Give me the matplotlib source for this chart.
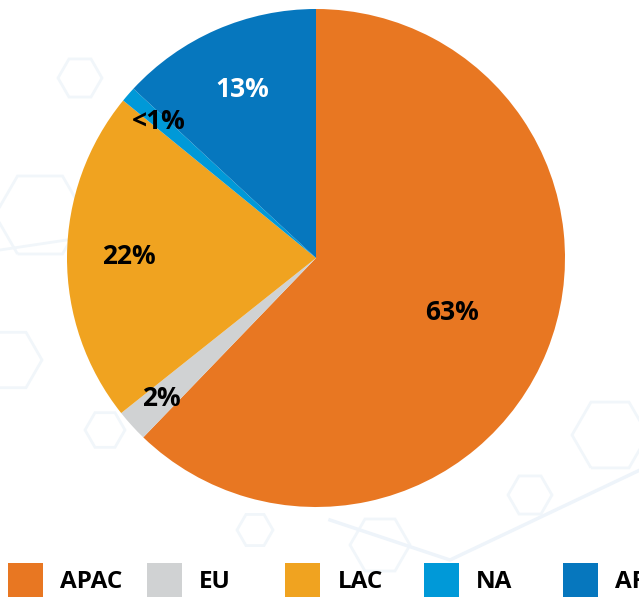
import numpy as np
import matplotlib.pyplot as plt
from matplotlib.patches import Rectangle, RegularPolygon

regions = ["APAC", "EU", "LAC", "NA", "AF"]
shares = [62.2, 2.1, 21.6, 1.0, 13.1]
pct_labels = ["63%", "2%", "22%", "<1%", "13%"]
colors = ["#E87722", "#D0D2D3", "#F0A320", "#0099D8", "#0677BE"]
label_colors = ["black", "black", "black", "black", "white"]
label_dist = [0.59, 0.84, 0.75, 0.835, 0.74]

W, H = 639, 597
fig = plt.figure(figsize=(W / 100, H / 100), dpi=100)

# faint hexagon background
bg = fig.add_axes([0, 0, 1, 1])
bg.set_xlim(0, W)
bg.set_ylim(H, 0)
bg.axis("off")
hexes = [(80, 78, 22), (10, 360, 32), (105, 430, 20), (610, 435, 38), (530, 495, 22),
         (255, 530, 18), (520, 230, 25), (40, 215, 45), (380, 545, 30)]
for hx, hy, hr in hexes:
    bg.add_patch(RegularPolygon((hx, hy), 6, radius=hr, orientation=np.pi / 6,
                                fill=False, ec="#F1F6FA", lw=2))
bg.plot([0, 100, 200], [250, 235, 120], color="#F1F6FA", lw=2)
bg.plot([330, 450, 640], [520, 560, 470], color="#EEF4FA", lw=2.5)

R = 249
cx, cy = 316, 258
ax = fig.add_axes([(cx - R) / W, (H - cy - R) / H, 2 * R / W, 2 * R / H])
wedges, _ = ax.pie(shares, colors=colors, startangle=90, counterclock=False,
                   wedgeprops=dict(linewidth=0))
ax.set_xlim(-1, 1)
ax.set_ylim(-1, 1)
ax.set_aspect("equal")
ax.axis("off")

for w, txt, col, d in zip(wedges, pct_labels, label_colors, label_dist):
    mid = np.deg2rad((w.theta1 + w.theta2) / 2)
    ax.text(d * np.cos(mid), d * np.sin(mid), txt, ha="center", va="center",
            fontsize=19, fontweight="bold", color=col, family=["Open Sans", "DejaVu Sans"])

# legend row at the bottom (cut off at the right like the original)
for i, (name, col) in enumerate(zip(regions, colors)):
    x0 = 8 + i * 138.7
    bg.add_patch(Rectangle((x0, 563), 35, 40, color=col, lw=0))
    bg.text(x0 + 52, 582, name, ha="left", va="center", fontsize=17.5,
            fontweight="bold", color="black", family=["Open Sans", "DejaVu Sans"])

fig.savefig("out.png", dpi=100)
